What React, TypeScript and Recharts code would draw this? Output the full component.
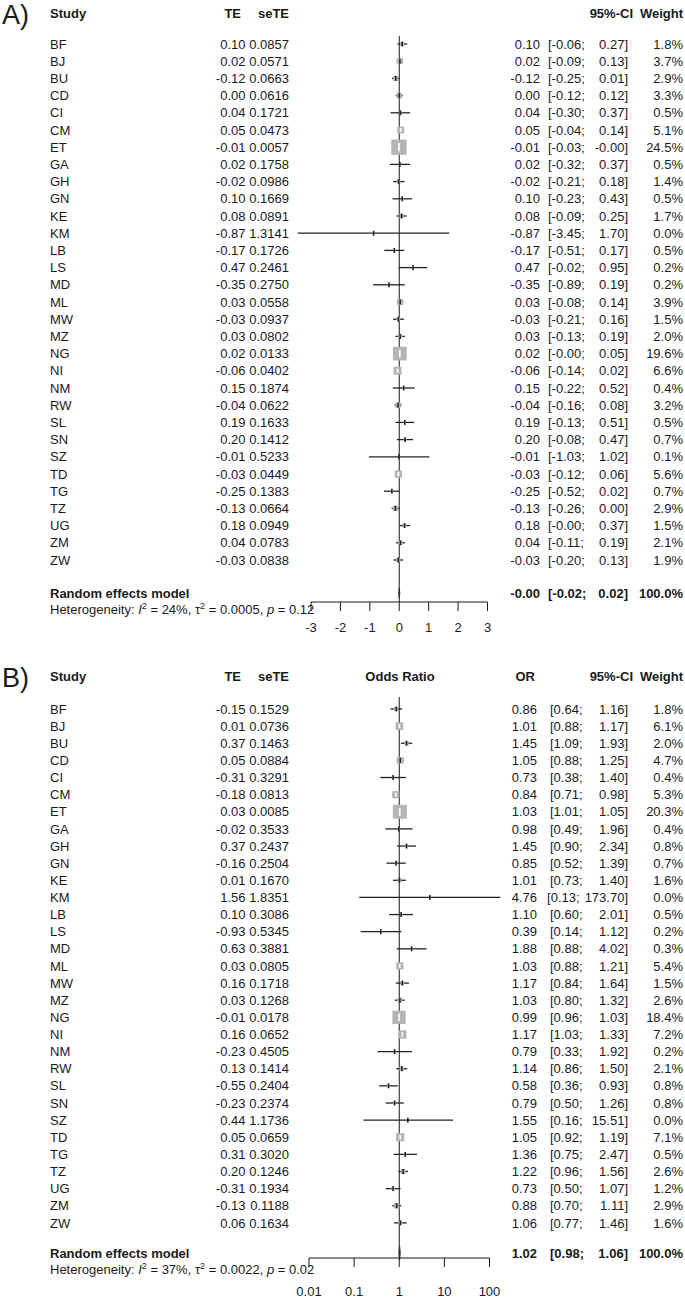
import React from 'react';
import { ScatterChart, Scatter, XAxis, YAxis, ReferenceLine, ReferenceArea } from 'recharts';

const FONT = '"Liberation Sans", Arial, Helvetica, sans-serif';
const INK = '#1a1a1a';

const studies = ['BF', 'BJ', 'BU', 'CD', 'CI', 'CM', 'ET', 'GA', 'GH', 'GN', 'KE', 'KM', 'LB', 'LS', 'MD', 'ML', 'MW', 'MZ', 'NG', 'NI', 'NM', 'RW', 'SL', 'SN', 'SZ', 'TD', 'TG', 'TZ', 'UG', 'ZM', 'ZW'];

// panel A: difference scale
const teA = [0.10, 0.02, -0.12, 0.00, 0.04, 0.05, -0.01, 0.02, -0.02, 0.10, 0.08, -0.87, -0.17, 0.47, -0.35, 0.03, -0.03, 0.03, 0.02, -0.06, 0.15, -0.04, 0.19, 0.20, -0.01, -0.03, -0.25, -0.13, 0.18, 0.04, -0.03];
const seA = [0.0857, 0.0571, 0.0663, 0.0616, 0.1721, 0.0473, 0.0057, 0.1758, 0.0986, 0.1669, 0.0891, 1.3141, 0.1726, 0.2461, 0.2750, 0.0558, 0.0937, 0.0802, 0.0133, 0.0402, 0.1874, 0.0622, 0.1633, 0.1412, 0.5233, 0.0449, 0.1383, 0.0664, 0.0949, 0.0783, 0.0838];
const loA = [-0.06, -0.09, -0.25, -0.12, -0.30, -0.04, -0.03, -0.32, -0.21, -0.23, -0.09, -3.45, -0.51, -0.02, -0.89, -0.08, -0.21, -0.13, -0, -0.14, -0.22, -0.16, -0.13, -0.08, -1.03, -0.12, -0.52, -0.26, -0, -0.11, -0.20];
const hiA = [0.27, 0.13, 0.01, 0.12, 0.37, 0.14, -0, 0.37, 0.18, 0.43, 0.25, 1.70, 0.17, 0.95, 0.19, 0.14, 0.16, 0.19, 0.05, 0.02, 0.52, 0.08, 0.51, 0.47, 1.02, 0.06, 0.02, 0.00, 0.37, 0.19, 0.13];
const wA = [1.8, 3.7, 2.9, 3.3, 0.5, 5.1, 24.5, 0.5, 1.4, 0.5, 1.7, 0.0, 0.5, 0.2, 0.2, 3.9, 1.5, 2.0, 19.6, 6.6, 0.4, 3.2, 0.5, 0.7, 0.1, 5.6, 0.7, 2.9, 1.5, 2.1, 1.9];
const reA = [-0, -0.02, 0.02];
const hetA = ['24%', '0.0005', '0.12'];
const ticksA = [-3, -2, -1, 0, 1, 2, 3];

// panel B: odds ratios
const teB = [-0.15, 0.01, 0.37, 0.05, -0.31, -0.18, 0.03, -0.02, 0.37, -0.16, 0.01, 1.56, 0.10, -0.93, 0.63, 0.03, 0.16, 0.03, -0.01, 0.16, -0.23, 0.13, -0.55, -0.23, 0.44, 0.05, 0.31, 0.20, -0.31, -0.13, 0.06];
const seB = [0.1529, 0.0736, 0.1463, 0.0884, 0.3291, 0.0813, 0.0085, 0.3533, 0.2437, 0.2504, 0.1670, 1.8351, 0.3086, 0.5345, 0.3881, 0.0805, 0.1718, 0.1268, 0.0178, 0.0652, 0.4505, 0.1414, 0.2404, 0.2374, 1.1736, 0.0659, 0.3020, 0.1246, 0.1934, 0.1188, 0.1634];
const orB = [0.86, 1.01, 1.45, 1.05, 0.73, 0.84, 1.03, 0.98, 1.45, 0.85, 1.01, 4.76, 1.10, 0.39, 1.88, 1.03, 1.17, 1.03, 0.99, 1.17, 0.79, 1.14, 0.58, 0.79, 1.55, 1.05, 1.36, 1.22, 0.73, 0.88, 1.06];
const loB = [0.64, 0.88, 1.09, 0.88, 0.38, 0.71, 1.01, 0.49, 0.90, 0.52, 0.73, 0.13, 0.60, 0.14, 0.88, 0.88, 0.84, 0.80, 0.96, 1.03, 0.33, 0.86, 0.36, 0.50, 0.16, 0.92, 0.75, 0.96, 0.50, 0.70, 0.77];
const hiB = [1.16, 1.17, 1.93, 1.25, 1.40, 0.98, 1.05, 1.96, 2.34, 1.39, 1.40, 173.70, 2.01, 1.12, 4.02, 1.21, 1.64, 1.32, 1.03, 1.33, 1.92, 1.50, 0.93, 1.26, 15.51, 1.19, 2.47, 1.56, 1.07, 1.11, 1.46];
const wB = [1.8, 6.1, 2.0, 4.7, 0.4, 5.3, 20.3, 0.4, 0.8, 0.7, 1.6, 0.0, 0.5, 0.2, 0.3, 5.4, 1.5, 2.6, 18.4, 7.2, 0.2, 2.1, 0.8, 0.8, 0.0, 7.1, 0.5, 2.6, 1.2, 2.9, 1.6];
const reB = [1.02, 0.98, 1.06];
const hetB = ['37%', '0.0022', '0.02'];
const ticksB = [0.01, 0.1, 1, 10, 100];

const f2 = (v: number) => (v < 0 || Object.is(v, -0) ? '-' : '') + Math.abs(v).toFixed(2);
const f4 = (v: number) => (v < 0 ? '-' : '') + Math.abs(v).toFixed(4);
const pct = (v: number) => v.toFixed(1) + '%';

// rough Arial 13px advance widths, only used to keep the CI bounds apart
const textW = (s: string, bold = false) =>
  s.split('').reduce((a, c) => a + (/[0-9]/.test(c) ? 7.23 : c === '-' ? 4.33 : c === '%' ? 11.56 : 3.61), 0) * (bold ? 1.05 : 1);

type Layout = { top: number; row0: number; rowH: number; re: number; axis: number; het: number; tickMargin: number; diamond: number; height: number };

type PanelProps = {
  tag: string;
  te: number[];
  se: number[];
  est: number[];
  lo: number[];
  hi: number[];
  w: number[];
  re: number[];
  het: string[];
  ticks: number[];
  log?: boolean;
  nullValue: number;
  left: number;
  right: number;
  loX: number;
  estX: number;
  effectHeader?: boolean;
  lay: Layout;
};

const Box = (props: any) => {
  const { cx, cy, payload } = props;
  const s = 3.1 * Math.sqrt(payload.w);
  const inner = payload.w >= 5;
  const t = inner ? s * 0.55 : 5;
  return (
    <g>
      {s > 0 && <rect x={cx - s / 2} y={cy - s / 2} width={s} height={s} fill="#b5b5b5" />}
      <rect x={cx - 0.8} y={cy - t / 2} width={1.6} height={t} fill={inner ? '#ffffff' : '#222'} />
    </g>
  );
};

const Diamond = (props: any) => {
  const x = Math.min(props.x, props.x + props.width);
  const y = Math.min(props.y, props.y + props.height);
  const w = Math.abs(props.width);
  const h = Math.abs(props.height);
  const mx = x + w / 2;
  const my = y + h / 2;
  return <polygon points={`${x},${my} ${mx},${y} ${x + w},${my} ${mx},${y + h}`} fill="#808080" stroke="#555" strokeWidth={1} />;
};

function Panel(p: PanelProps) {
  const L = p.lay;
  const toRow = (px: number) => (px - L.row0) / L.rowH;
  const rePos = toRow(L.re);
  const yDomain: [number, number] = [toRow(L.top), toRow(L.axis)];
  const dHalf = L.diamond / L.rowH;
  const axisH = 38;
  const bottom = L.height - L.axis - axisH;
  const data = studies.map((s, i) => ({ x: p.est[i], y: i, w: p.w[i] }));
  const rowTicks = [...studies.map((_, i) => i), rePos];
  const txt = { fontFamily: FONT, fontSize: 13, fill: INK };

  const ci = (y: number, lo: number, hi: number, style: any, bold = false) => {
    const upper = f2(hi) + ']';
    const lower = '[' + f2(lo) + ';';
    const lx = Math.min(p.loX, 628 - textW(upper, bold) - 5 - textW(lower, bold));
    return (
      <>
        <text x={lx} y={y} {...style}>{lower}</text>
        <text x={628} y={y} textAnchor="end" {...style}>{upper}</text>
      </>
    );
  };

  const RowTick = (t: any) => {
    const y = t.y + 4.6;
    const v = t.payload.value;
    if (v === rePos) {
      const b = { ...txt, fontWeight: 700 };
      return (
        <g>
          <text x={50} y={y} {...b}>Random effects model</text>
          <text x={p.estX} y={y} textAnchor="end" {...b}>{f2(p.re[0])}</text>
          {ci(y, p.re[1], p.re[2], b, true)}
          <text x={683} y={y} textAnchor="end" {...b}>100.0%</text>
        </g>
      );
    }
    const i = Math.round(v as number);
    return (
      <g>
        <text x={50} y={y} {...txt}>{studies[i]}</text>
        <text x={245.5} y={y} textAnchor="end" {...txt}>{f2(p.te[i])}</text>
        <text x={289} y={y} textAnchor="end" {...txt}>{f4(p.se[i])}</text>
        <text x={p.estX} y={y} textAnchor="end" {...txt}>{f2(p.est[i])}</text>
        {ci(y, p.lo[i], p.hi[i], txt)}
        <text x={683} y={y} textAnchor="end" {...txt}>{pct(p.w[i])}</text>
      </g>
    );
  };

  const head = { fontFamily: FONT, fontSize: 13, fontWeight: 700, fill: INK };
  const hetY = L.het + 4.5;

  return (
    <div style={{ position: 'relative', width: 685, height: L.height }}>
      <ScatterChart width={685} height={L.height} margin={{ top: L.top, right: 685 - p.right, bottom, left: 0 }}>
        <XAxis
          type="number"
          dataKey="x"
          scale={p.log ? 'log' : 'linear'}
          domain={[p.ticks[0], p.ticks[p.ticks.length - 1]]}
          ticks={p.ticks}
          allowDataOverflow
          interval={0}
          height={axisH}
          tickFormatter={(v: number) => String(v)}
          axisLine={{ stroke: INK }}
          tickLine={{ stroke: INK }}
          tickSize={9}
          tickMargin={L.tickMargin}
          tick={{ fontFamily: FONT, fontSize: 13, fill: INK }}
        />
        <YAxis
          type="number"
          dataKey="y"
          domain={yDomain}
          reversed
          allowDataOverflow
          ticks={rowTicks}
          interval={0}
          width={p.left}
          axisLine={false}
          tickLine={false}
          tick={RowTick}
        />
        <ReferenceLine x={p.nullValue} stroke={INK} strokeWidth={1} ifOverflow="visible" />
        {studies.map((s, i) => (
          <ReferenceLine
            key={s}
            segment={[{ x: p.lo[i], y: i }, { x: p.hi[i], y: i }]}
            stroke="#222"
            strokeWidth={1.3}
            ifOverflow="visible"
          />
        ))}
        <ReferenceArea x1={p.re[1]} x2={p.re[2]} y1={rePos - dHalf} y2={rePos + dHalf} ifOverflow="visible" shape={Diamond} />
        <Scatter data={data} shape={Box} isAnimationActive={false} />
      </ScatterChart>
      <svg width={685} height={L.height} style={{ position: 'absolute', left: 0, top: 0, pointerEvents: 'none' }}>
        <text x={2} y={24} fontFamily={FONT} fontSize={27} fill={INK}>{p.tag}</text>
        <text x={50} y={18} {...head}>Study</text>
        <text x={241} y={18} textAnchor="end" {...head}>TE</text>
        <text x={289} y={18} textAnchor="end" {...head}>seTE</text>
        {p.effectHeader && <text x={400} y={18} textAnchor="middle" {...head}>Odds Ratio</text>}
        {p.effectHeader && <text x={535} y={18} textAnchor="end" {...head}>OR</text>}
        <text x={633} y={18} textAnchor="end" {...head}>95%-CI</text>
        <text x={683} y={18} textAnchor="end" {...head}>Weight</text>
        <text x={50} y={hetY} fontFamily={FONT} fontSize={13} fill={INK}>
          Heterogeneity: <tspan fontStyle="italic">I</tspan>
          <tspan dy={-5} fontSize={9}>2</tspan>
          <tspan dy={5}> = {p.het[0]}, τ</tspan>
          <tspan dy={-5} fontSize={9}>2</tspan>
          <tspan dy={5}> = {p.het[1]}, </tspan>
          <tspan fontStyle="italic">p</tspan> = {p.het[2]}
        </text>
      </svg>
    </div>
  );
}

const layA: Layout = { top: 36, row0: 44, rowH: 17.2, re: 593, axis: 602, het: 609, tickMargin: 12, diamond: 5, height: 663 };
const layB: Layout = { top: 34, row0: 46, rowH: 17.13, re: 590, axis: 595, het: 606, tickMargin: 20, diamond: 7, height: 635 };

export default function App() {
  return (
    <div style={{ position: 'absolute', left: 0, top: 0, width: 685, height: 1298, background: '#fff' }}>
      <Panel tag="A)" te={teA} se={seA} est={teA} lo={loA} hi={hiA} w={wA} re={reA} het={hetA}
        ticks={ticksA} nullValue={0} left={311} right={487.5} loX={548} estX={540} lay={layA} />
      <Panel tag="B)" te={teB} se={seB} est={orB} lo={loB} hi={hiB} w={wB} re={reB} het={hetB}
        ticks={ticksB} log nullValue={1} left={309} right={489.5} loX={550} estX={537} effectHeader lay={layB} />
    </div>
  );
}
